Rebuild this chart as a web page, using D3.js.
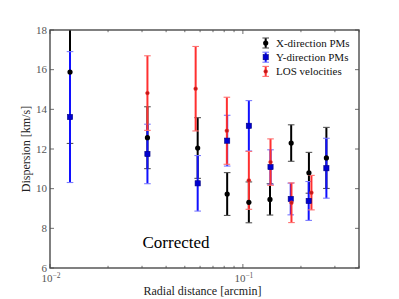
<!DOCTYPE html>
<html>
<head>
<meta charset="utf-8">
<script src="https://cdn.jsdelivr.net/npm/d3@7"></script>
<style>
  body { margin: 0; background: #fff; }
  svg text { font-family: "Liberation Serif", "DejaVu Serif", serif; }
</style>
</head>
<body>
<div id="chart"></div>
<script>
// --------------------------------------------
// DATA
// --------------------------------------------
const xRadius = [0.0127, 0.0320, 0.0583, 0.0829, 0.1074, 0.1382, 0.1780, 0.2200, 0.2710];
const xDisp   = [15.88, 12.57, 12.05, 9.73, 9.31, 9.46, 12.30, 10.80, 11.55];
const xErr    = [3.6, 1.56, 1.53, 1.08, 1.03, 0.79, 0.92, 1.03, 1.54];

const yRadius = [0.0127, 0.0320, 0.0583, 0.0829, 0.1074, 0.1391, 0.1771, 0.2194, 0.2710];
const yDisp   = [13.61, 11.75, 10.27, 12.42, 13.17, 11.09, 9.48, 9.38, 11.03];
const yErr    = [3.3, 1.5, 1.4, 1.28, 1.27, 0.87, 0.8, 0.98, 1.51];

const losRadius = [0.0320, 0.0569, 0.0826, 0.1074, 0.1391, 0.1786, 0.2267];
const losDisp   = [14.82, 15.04, 12.92, 10.42, 11.34, 9.29, 9.80];
const losErr    = [1.88, 2.13, 1.69, 1.46, 1.17, 1.0, 0.87];

const yTicks = [6, 8, 10, 12, 14, 16, 18];
const xMajor = [0.01, 0.1];
const legendLabels = ["X-direction PMs", "Y-direction PMs", "LOS velocities"];

// --------------------------------------------
// LAYOUT
// --------------------------------------------
const W = 399, H = 299;
const m = { left: 50, right: 40, top: 30, bottom: 31 };

const svg = d3.select("#chart").append("svg")
  .attr("width", W).attr("height", H);

const x = d3.scaleLog().domain([0.01, 0.4]).range([m.left, W - m.right]);
const y = d3.scaleLinear().domain([6, 18]).range([H - m.bottom, m.top]);

const series = [
  { r: xRadius, v: xDisp, e: xErr, color: "#000", cap: "#555", marker: "circle" },
  { r: yRadius, v: yDisp, e: yErr, color: "#1010ff", cap: "#7a7aff", marker: "square" },
  { r: losRadius, v: losDisp, e: losErr, color: "#ff3030", cap: "#ff7070", marker: "dot" },
];

// clip for error bars
svg.append("clipPath").attr("id", "plot-clip")
  .append("rect")
  .attr("x", m.left).attr("y", m.top)
  .attr("width", W - m.left - m.right).attr("height", H - m.top - m.bottom);

const plot = svg.append("g").attr("clip-path", "url(#plot-clip)");

// error bars first
series.forEach((s) => {
  const pts = s.r.map((r, i) => ({ r: r, v: s.v[i], e: s.e[i] }));
  const g = plot.append("g");
  g.selectAll("line.bar").data(pts).enter().append("line")
    .attr("x1", (d) => x(d.r)).attr("x2", (d) => x(d.r))
    .attr("y1", (d) => y(d.v + d.e)).attr("y2", (d) => y(d.v - d.e))
    .attr("stroke", s.color).attr("stroke-width", 2);
  [1, -1].forEach((sgn) => {
    g.selectAll(null).data(pts).enter().append("line")
      .attr("x1", (d) => x(d.r) - 3.3).attr("x2", (d) => x(d.r) + 3.3)
      .attr("y1", (d) => y(d.v + sgn * d.e)).attr("y2", (d) => y(d.v + sgn * d.e))
      .attr("stroke", s.cap).attr("stroke-width", 1.1);
  });
});

// markers on top
const drawMarker = (g, type, cx, cy) => {
  if (type === "circle") {
    g.append("circle").attr("cx", cx).attr("cy", cy).attr("r", 2.6).attr("fill", "#000");
  } else if (type === "square") {
    g.append("rect").attr("x", cx - 2.6).attr("y", cy - 2.6)
      .attr("width", 5.2).attr("height", 5.2)
      .attr("fill", "#0000d0").attr("stroke", "#000080").attr("stroke-width", 0.6);
  } else {
    g.append("circle").attr("cx", cx).attr("cy", cy).attr("r", 1.9)
      .attr("fill", "#c01818").attr("stroke", "#ff3030").attr("stroke-width", 0.5);
  }
};

series.forEach((s) => {
  const g = plot.append("g");
  s.r.forEach((r, i) => drawMarker(g, s.marker, x(r), y(s.v[i])));
});

// --------------------------------------------
// AXES FRAME & TICKS
// --------------------------------------------
const frameColor = "#4a4a4a";
const x0 = m.left, x1 = W - m.right, y0 = H - m.bottom, y1 = m.top;

svg.append("rect")
  .attr("x", x0).attr("y", y1).attr("width", x1 - x0).attr("height", y0 - y1)
  .attr("fill", "none").attr("stroke", frameColor).attr("stroke-width", 1.4);

const tickG = svg.append("g").attr("stroke", frameColor).attr("stroke-width", 0.8);

// y ticks, inward on both sides
yTicks.forEach((t) => {
  tickG.append("line").attr("x1", x0).attr("x2", x0 + 4).attr("y1", y(t)).attr("y2", y(t));
  tickG.append("line").attr("x1", x1).attr("x2", x1 - 4).attr("y1", y(t)).attr("y2", y(t));
});

// x ticks: major + minor on bottom and top
const xMinor = x.ticks().filter((t) => !xMajor.some((mj) => Math.abs(mj - t) < 1e-9));
xMajor.forEach((t) => {
  tickG.append("line").attr("x1", x(t)).attr("x2", x(t)).attr("y1", y0).attr("y2", y0 - 4);
  tickG.append("line").attr("x1", x(t)).attr("x2", x(t)).attr("y1", y1).attr("y2", y1 + 4);
});
xMinor.forEach((t) => {
  tickG.append("line").attr("x1", x(t)).attr("x2", x(t)).attr("y1", y0).attr("y2", y0 - 2.2);
  tickG.append("line").attr("x1", x(t)).attr("x2", x(t)).attr("y1", y1).attr("y2", y1 + 2.2);
});

// tick labels
svg.append("g").selectAll("text").data(yTicks).enter().append("text")
  .attr("x", x0 - 3).attr("y", (d) => y(d) + 3.5)
  .attr("text-anchor", "end").attr("font-size", 11).attr("fill", "#555")
  .text((d) => d);

xMajor.forEach((t) => {
  const lbl = svg.append("text")
    .attr("x", x(t) + 1).attr("y", y0 + 14)
    .attr("text-anchor", "middle").attr("font-size", 11).attr("fill", "#555");
  lbl.append("tspan").text("10");
  lbl.append("tspan").attr("dy", -4).attr("font-size", 7.5)
    .text("\u2212" + Math.round(-Math.log10(t)));
});

// axis titles
svg.append("text")
  .attr("x", (x0 + x1) / 2 - 2).attr("y", H - 4)
  .attr("text-anchor", "middle").attr("font-size", 12).attr("fill", "#222")
  .text("Radial distance [arcmin]");

svg.append("text")
  .attr("transform", `translate(30,${(y0 + y1) / 2}) rotate(-90)`)
  .attr("text-anchor", "middle").attr("font-size", 12).attr("fill", "#222")
  .text("Dispersion [km/s]");

// annotation
svg.append("text")
  .attr("x", 142.5).attr("y", 248)
  .attr("font-size", 17).attr("fill", "#000")
  .text("Corrected");

// --------------------------------------------
// LEGEND
// --------------------------------------------
const legG = svg.append("g");
legendLabels.forEach((lab, i) => {
  const s = series[i];
  const ly = 43 + i * 14.2;
  const lx = 265.7;
  legG.append("line").attr("x1", lx).attr("x2", lx).attr("y1", ly - 5).attr("y2", ly + 5)
    .attr("stroke", s.color).attr("stroke-width", 2);
  [-5, 5].forEach((dy) => {
    legG.append("line").attr("x1", lx - 3.3).attr("x2", lx + 3.3)
      .attr("y1", ly + dy).attr("y2", ly + dy)
      .attr("stroke", s.cap).attr("stroke-width", 1.1);
  });
  drawMarker(legG, s.marker, lx, ly);
  legG.append("text").attr("x", 276).attr("y", ly + 3.8)
    .attr("font-size", 11).attr("fill", "#111").text(lab);
});
</script>
</body>
</html>
